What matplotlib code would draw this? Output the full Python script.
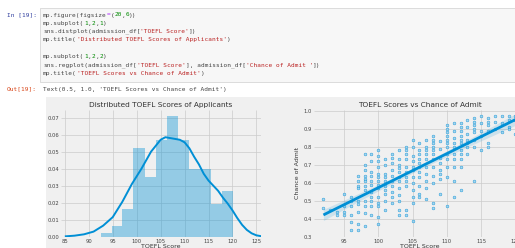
import numpy as np
import matplotlib
matplotlib.use('Agg')
import matplotlib.pyplot as plt
from matplotlib.patches import Rectangle
from matplotlib.text import Annotation

# histogram of TOEFL scores (density per bin)
bin_edges = [92.5, 94.8, 97.0, 99.3, 101.7, 104.0, 106.3, 108.7, 111.0, 113.3, 115.6, 117.9, 120.2]
bin_density = [0.002, 0.006, 0.016, 0.052, 0.035, 0.057, 0.071, 0.057, 0.040, 0.040, 0.019, 0.027]

# kde curve drawn by distplot
kde_x = [85, 87, 89, 91, 93, 95, 97, 99, 101, 103, 105, 106, 107, 108, 109, 110, 111, 112,
         113, 114, 115, 116, 117, 118, 119, 120, 121, 122, 123, 124, 125, 126]
kde_y = [0.0002, 0.0006, 0.0014, 0.003, 0.0065, 0.0115, 0.0205, 0.031, 0.040, 0.050, 0.057, 0.0585,
         0.058, 0.0575, 0.057, 0.0555, 0.052, 0.047, 0.0425, 0.037, 0.033, 0.030, 0.027, 0.023,
         0.0195, 0.0155, 0.011, 0.007, 0.004, 0.002, 0.0008, 0.0003]

# scatter: TOEFL score vs chance of admit
toefl_score = (
    [92] * 2 + [93] * 1 + [94] * 2 + [95] * 4 + [96] * 6 + [97] * 9 + [98] * 12 + [99] * 11
    + [100] * 14 + [101] * 10 + [102] * 10 + [103] * 12 + [104] * 11 + [105] * 12 + [106] * 11
    + [107] * 10 + [108] * 12 + [109] * 8 + [110] * 12 + [111] * 10 + [112] * 11 + [113] * 7
    + [114] * 8 + [115] * 5 + [116] * 6 + [117] * 3 + [118] * 3 + [119] * 4 + [120] * 3
)
chance_of_admit = [
    0.51, 0.46,
    0.45,
    0.42, 0.44,
    0.54, 0.44, 0.42, 0.47,
    0.50, 0.47, 0.42, 0.38, 0.34, 0.52,
    0.64, 0.61, 0.58, 0.57, 0.50, 0.48, 0.44, 0.37, 0.34,
    0.76, 0.70, 0.67, 0.64, 0.62, 0.61, 0.58, 0.56, 0.50, 0.47, 0.43, 0.36,
    0.76, 0.72, 0.66, 0.64, 0.61, 0.59, 0.55, 0.52, 0.50, 0.47, 0.42,
    0.78, 0.75, 0.72, 0.69, 0.65, 0.63, 0.61, 0.59, 0.57, 0.52, 0.49, 0.47, 0.41, 0.37,
    0.73, 0.70, 0.65, 0.63, 0.61, 0.58, 0.56, 0.54, 0.50, 0.45,
    0.76, 0.74, 0.71, 0.67, 0.64, 0.61, 0.58, 0.55, 0.52, 0.49,
    0.78, 0.73, 0.70, 0.68, 0.66, 0.63, 0.61, 0.57, 0.53, 0.50, 0.45, 0.42,
    0.80, 0.78, 0.76, 0.73, 0.69, 0.66, 0.63, 0.61, 0.58, 0.45, 0.42,
    0.84, 0.80, 0.75, 0.72, 0.69, 0.67, 0.63, 0.60, 0.56, 0.52, 0.49, 0.39,
    0.82, 0.78, 0.76, 0.73, 0.71, 0.69, 0.66, 0.63, 0.58, 0.54, 0.52,
    0.84, 0.80, 0.78, 0.76, 0.73, 0.69, 0.65, 0.61, 0.57, 0.51,
    0.86, 0.84, 0.82, 0.80, 0.78, 0.76, 0.73, 0.69, 0.64, 0.60, 0.49, 0.46,
    0.83, 0.79, 0.74, 0.71, 0.67, 0.65, 0.62, 0.54,
    0.92, 0.90, 0.88, 0.86, 0.84, 0.82, 0.80, 0.76, 0.73, 0.69, 0.63, 0.47,
    0.93, 0.89, 0.85, 0.82, 0.80, 0.76, 0.73, 0.69, 0.61, 0.52,
    0.93, 0.91, 0.89, 0.86, 0.84, 0.82, 0.78, 0.76, 0.73, 0.69, 0.56,
    0.95, 0.91, 0.87, 0.84, 0.82, 0.80, 0.76,
    0.96, 0.94, 0.92, 0.90, 0.88, 0.84, 0.80, 0.61,
    0.97, 0.93, 0.89, 0.86, 0.78,
    0.96, 0.94, 0.92, 0.89, 0.82, 0.80,
    0.97, 0.94, 0.90,
    0.97, 0.93, 0.88,
    0.97, 0.95, 0.91, 0.90,
    0.97, 0.95, 0.87,
]

code_lines = [
    [("mp.figure(figsize", "k"), ("=", "op"), ("(", "k"), ("20", "num"), (",", "k"), ("6", "num"), ("))", "k")],
    [("mp.subplot(", "k"), ("1", "num"), (",", "k"), ("2", "num"), (",", "k"), ("1", "num"), (")", "k")],
    [("sns.distplot(admission_df[", "k"), ("'TOEFL Score'", "str"), ("])", "k")],
    [("mp.title(", "k"), ("'Distributed TOEFL Scores of Applicants'", "str"), (")", "k")],
    [],
    [("mp.subplot(", "k"), ("1", "num"), (",", "k"), ("2", "num"), (",", "k"), ("2", "num"), (")", "k")],
    [("sns.regplot(admission_df[", "k"), ("'TOEFL Score'", "str"), ("], admission_df[", "k"),
     ("'Chance of Admit '", "str"), ("])", "k")],
    [("mp.title(", "k"), ("'TOEFL Scores vs Chance of Admit'", "str"), (")", "k")],
]
out_text = "Text(0.5, 1.0, 'TOEFL Scores vs Chance of Admit')"

plt.style.use('fivethirtyeight')
W, H = 515, 248
blue = '#008fd5'


def box(x0, y0, x1, y1):
    return [x0 / W, 1 - y1 / H, (x1 - x0) / W, (y1 - y0) / H]


fig = plt.figure(figsize=(W / 100, H / 100), dpi=100, facecolor='white')

# notebook cell
fig.patches.append(Rectangle((40 / W, 1 - 82 / H), 480 / W, 74 / H, transform=fig.transFigure,
                             facecolor='#f7f7f7', edgecolor='#cfcfcf', linewidth=0.5, zorder=-2))
colors = {"k": "#444444", "op": "#AA22FF", "num": "#008800", "str": "#BA2121"}
fs_code = 4.4
mono = dict(fontsize=fs_code, family='DejaVu Sans Mono')
fig.text(37 / W, 1 - 15 / H, "In [19]:", color='#303F9F', ha='right', va='center', **mono)
for i, line in enumerate(code_lines):
    y = 15 + i * 8.33
    prev = None
    for txt, c in line:
        if prev is None:
            prev = fig.text(43 / W, 1 - y / H, txt, color=colors[c], ha='left', va='center', **mono)
        else:
            # chain the token to the right edge of the one before
            prev = fig.add_artist(Annotation(txt, xy=(1, 0), xycoords=prev, ha='left', va='bottom',
                                             color=colors[c], **mono))
fig.text(37 / W, 1 - 89.3 / H, "Out[19]:", color='#D84315', ha='right', va='center', **mono)
fig.text(43 / W, 1 - 89.3 / H, out_text, color='#444444', ha='left', va='center', **mono)

# matplotlib output image background
fig.patches.append(Rectangle((46 / W, 0), 1, 1 - 97 / H, transform=fig.transFigure,
                             facecolor='#f0f0f0', edgecolor='none', zorder=-2))


def style(ax):
    ax.set_facecolor('#f0f0f0')
    for s in ax.spines.values():
        s.set_visible(False)
    ax.grid(True, color='#cbcbcb', linewidth=0.5)
    ax.set_axisbelow(True)
    ax.tick_params(length=0, pad=1.5, labelsize=3.8, labelcolor='#444444')


# left: distplot
ax1 = fig.add_axes(box(61, 110, 261.2, 236.7))
style(ax1)
widths = np.diff(bin_edges)
ax1.bar(bin_edges[:-1], bin_density, width=widths, align='edge', color=blue, alpha=0.38,
        edgecolor='none')
ax1.plot(kde_x, kde_y, color=blue, linewidth=1.4)
ax1.set_xlim(84.2, 126)
ax1.set_ylim(0, 0.0745)
ax1.set_xticks(range(85, 130, 5))
ax1.set_yticks(np.arange(0, 0.075, 0.01))
ax1.set_yticklabels(['%.2f' % v for v in np.arange(0, 0.075, 0.01)])
ax1.set_title('Distributed TOEFL Scores of Applicants', fontsize=5.3, pad=2, color='#333333')
ax1.set_xlabel('TOEFL Score', fontsize=4.5, labelpad=0.5, color='#333333')

# right: regplot
ax2 = fig.add_axes(box(313.8, 110, 525.1, 236.7))
style(ax2)
x = np.array(toefl_score, dtype=float)
y = np.array(chance_of_admit)
ax2.scatter(x, y, s=4, facecolor='#9fd2ee', edgecolor=blue, linewidths=0.35, alpha=0.85)
slope, icpt = np.polyfit(x, y, 1)
xg = np.linspace(x.min(), x.max(), 100)
yg = slope * xg + icpt
resid = y - (slope * x + icpt)
s_err = np.sqrt(np.sum(resid ** 2) / (len(x) - 2))
band = 1.96 * s_err * np.sqrt(1 / len(x) + (xg - x.mean()) ** 2 / np.sum((x - x.mean()) ** 2))
ax2.fill_between(xg, yg - band, yg + band, color=blue, alpha=0.15, linewidth=0)
ax2.plot(xg, yg, color=blue, linewidth=2)
ax2.set_xlim(90.6, 121.4)
ax2.set_ylim(0.3, 1.004)
ax2.set_xticks(range(95, 125, 5))
ax2.set_yticks(np.arange(0.3, 1.05, 0.1))
ax2.set_yticklabels(['%.1f' % v for v in np.arange(0.3, 1.05, 0.1)])
ax2.set_title('TOEFL Scores vs Chance of Admit', fontsize=5.3, pad=2, color='#333333')
ax2.set_xlabel('TOEFL Score', fontsize=4.5, labelpad=0.5, color='#333333')
ax2.set_ylabel('Chance of Admit', fontsize=4.5, labelpad=2.5, color='#333333')

fig.savefig('out.png', dpi=100, facecolor='white')
